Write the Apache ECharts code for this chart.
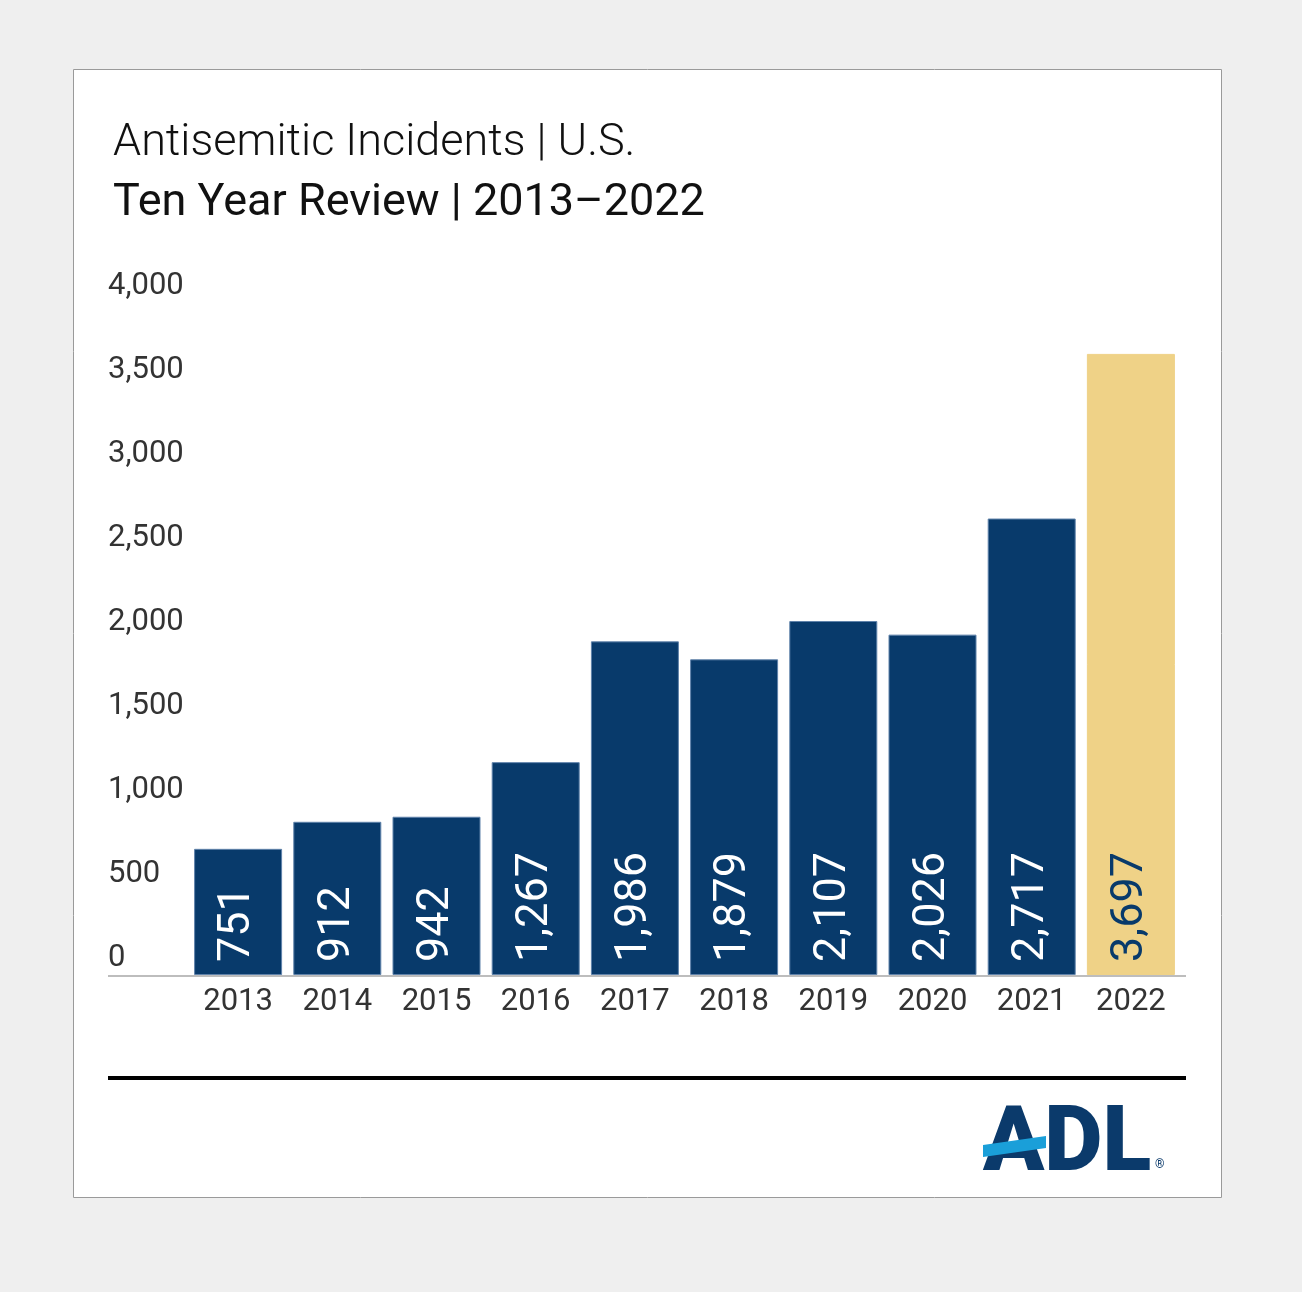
<!DOCTYPE html>
<html style="height: 100%">
<head>
    <meta charset="utf-8">
    <style>
        html, body { margin: 0; padding: 0; background: #efefef; }
        #container { width: 1302px; height: 1292px; }
    </style>
</head>
<body>
<div id="container"></div>
<script type="text/javascript" src="https://cdn.jsdelivr.net/npm/echarts@6/dist/echarts.min.js"></script>
<script type="text/javascript">
    // data
    var years = ['2013', '2014', '2015', '2016', '2017', '2018', '2019', '2020', '2021', '2022'];
    var incidents = [751, 912, 942, 1267, 1986, 1879, 2107, 2026, 2717, 3697];
    var highlightYear = '2022';
    var yTicks = { min: 0, max: 4000, interval: 500 };

    var navy = '#083a6b';
    var gold = '#efd287';

    function fmt(v) {
        return Number(v).toLocaleString('en-US');
    }

    var barData = incidents.map(function (v, i) {
        if (years[i] === highlightYear) {
            return {
                value: v,
                itemStyle: { color: gold, borderColor: gold },
                label: { color: navy }
            };
        }
        return v;
    });

    var dom = document.getElementById('container');
    var myChart = echarts.init(dom);

    var option = {
        backgroundColor: '#efefef',
        animation: false,
        textStyle: { fontFamily: 'Roboto' },
        title: [
            {
                text: 'Antisemitic Incidents | U.S.',
                left: 113,
                top: 121,
                padding: 0,
                textStyle: { fontFamily: 'Roboto', fontWeight: 300, fontSize: 45, color: '#111' }
            },
            {
                text: 'Ten Year Review | 2013\u20132022',
                left: 113,
                top: 181,
                padding: 0,
                textStyle: { fontFamily: 'Roboto', fontWeight: 400, fontSize: 45, color: '#111' }
            }
        ],
        grid: {
            left: 188.5,
            right: 121.5,
            top: 303,
            bottom: 317
        },
        xAxis: {
            type: 'category',
            data: years,
            axisLine: { show: false },
            axisTick: { show: false },
            axisLabel: { fontSize: 31, color: '#333', margin: 12, fontFamily: 'Roboto' }
        },
        yAxis: {
            type: 'value',
            min: yTicks.min,
            max: yTicks.max,
            interval: yTicks.interval,
            splitLine: { show: false },
            axisLine: { show: false },
            axisTick: { show: false },
            axisLabel: {
                fontSize: 31,
                color: '#333',
                align: 'left',
                margin: 80.5,
                verticalAlign: 'bottom',
                padding: [0, 0, 1, 0],
                fontFamily: 'Roboto',
                formatter: fmt
            }
        },
        series: [
            {
                type: 'bar',
                data: barData,
                barWidth: 88,
                itemStyle: { color: navy, borderColor: '#5f82aa', borderWidth: 1 },
                label: {
                    show: true,
                    position: 'insideBottom',
                    rotate: 90,
                    align: 'left',
                    verticalAlign: 'middle',
                    distance: 13,
                    fontSize: 45,
                    fontFamily: 'Roboto',
                    color: '#fff',
                    formatter: function (p) { return fmt(p.value); }
                }
            }
        ],
        graphic: [
            {
                type: 'rect',
                z: -10,
                shape: { x: 73.5, y: 69.5, width: 1148, height: 1128 },
                style: { fill: '#fff', stroke: '#9a9a9a', lineWidth: 1 }
            },
            {
                type: 'line',
                z: 1,
                shape: { x1: 108, y1: 976, x2: 1186, y2: 976 },
                style: { stroke: '#bdbdbd', lineWidth: 2 }
            },
            {
                type: 'line',
                shape: { x1: 108, y1: 1078, x2: 1186, y2: 1078 },
                style: { stroke: '#000', lineWidth: 4 }
            },
            {
                type: 'text',
                x: 983,
                y: 1147,
                style: {
                    text: 'ADL',
                    fontFamily: 'Roboto',
                    fontWeight: 900,
                    fontSize: 90,
                    fill: '#0b3a6b',
                    verticalAlign: 'middle'
                }
            },
            {
                type: 'polygon',
                shape: { points: [[983, 1145], [1046, 1136], [1046, 1148], [983, 1157]] },
                style: { fill: '#1a9fd9' }
            },
            {
                type: 'text',
                x: 1155,
                y: 1165,
                style: {
                    text: '\u00ae',
                    fontFamily: 'Roboto',
                    fontSize: 12,
                    fill: '#0b3a6b',
                    verticalAlign: 'middle'
                }
            }
        ]
    };

    if (option && typeof option === 'object') {
        myChart.setOption(option);
    }
</script>
</body>
</html>
